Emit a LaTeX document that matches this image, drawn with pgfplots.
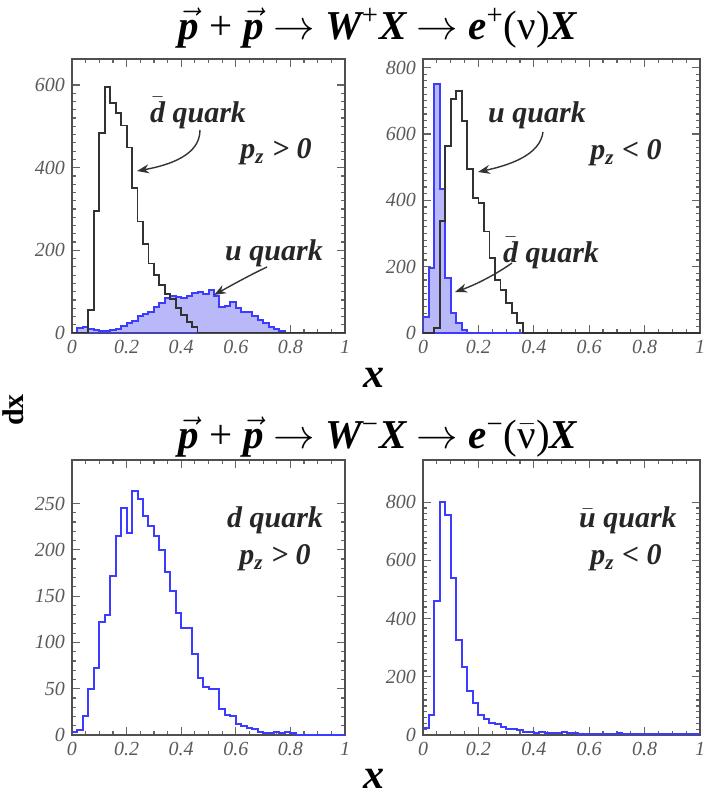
\documentclass[border=0pt]{standalone}
\usepackage{fontspec}
\setmainfont{Liberation Serif}
\usepackage{pgfplots}
\pgfplotsset{compat=1.18}
\usetikzlibrary{arrows.meta}
\definecolor{hblue}{RGB}{60,60,255}
\definecolor{hfill}{RGB}{185,185,250}
\definecolor{hblack}{RGB}{50,50,50}
\definecolor{framec}{RGB}{80,80,80}
\definecolor{tickc}{RGB}{100,100,100}
\definecolor{labc}{RGB}{90,90,90}
\pgfplotsset{
 hist/.style={
   scale only axis, xmin=0, xmax=1, ymin=0,
   axis line style={framec, line width=0.8pt},
   xtick={0,0.2,0.4,0.6,0.8,1}, minor x tick num=3,
   tick align=inside,
   major tick length=4pt, minor tick length=2.2pt,
   tick style={tickc, line width=0.6pt},
   ticklabel style={font=\fontsize{10}{10}\selectfont\itshape, text=labc},
   /pgf/number format/assume math mode=true,
   anchor=north west,
 },
 bluehist/.style={const plot mark left, draw=hblue, line width=1.0pt},
 blackhist/.style={const plot mark left, draw=hblack, line width=0.9pt},
}
\newcommand{\bi}{\bfseries\itshape}
\newcommand{\vp}{\ensuremath{\vec{\mbox{\bi p}}}}
\begin{document}
\begin{tikzpicture}
\useasboundingbox (0,0) rectangle (356pt,-398pt);
% top left
\begin{axis}[hist, at={(36pt,-29.5pt)}, width=136.5pt, height=137pt,
  ymax=663, ytick={0,200,400,600}, minor y tick num=9]
\addplot[bluehist, fill=hfill] coordinates {(0,0) (0.02,12) (0.04,14) (0.06,10) (0.08,8) (0.10,6) (0.12,6) (0.14,8) (0.16,10) (0.18,16) (0.20,24) (0.22,30) (0.24,40) (0.26,45) (0.28,52) (0.30,62) (0.32,72) (0.34,84) (0.36,90) (0.38,86) (0.40,84) (0.42,90) (0.44,96) (0.46,100) (0.48,94) (0.50,104) (0.52,90) (0.54,64) (0.56,66) (0.58,74) (0.60,60) (0.62,52) (0.64,50) (0.66,40) (0.68,32) (0.70,24) (0.72,14) (0.74,10) (0.76,6) (0.78,0) (1,0)} \closedcycle;
\addplot[blackhist] coordinates {(0,0) (0.06,56) (0.08,295) (0.10,483) (0.12,595) (0.14,556) (0.16,532) (0.18,502) (0.20,449) (0.22,351) (0.24,270) (0.26,215) (0.28,168) (0.30,141) (0.32,117) (0.34,95) (0.36,83) (0.38,61) (0.40,44) (0.42,27) (0.44,15) (0.46,0) (1,0)};
\end{axis}
% top right
\begin{axis}[hist, at={(211.5pt,-29.5pt)}, width=138.5pt, height=137pt,
  ymax=826, ytick={0,200,400,600,800}, minor y tick num=9]
\addplot[bluehist, fill=hfill] coordinates {(0,48) (0.02,195) (0.04,750) (0.06,435) (0.08,165) (0.10,60) (0.12,30) (0.14,10) (0.16,0) (1,0)} \closedcycle;
\addplot[blackhist] coordinates {(0,0) (0.04,15) (0.06,337) (0.08,564) (0.10,705) (0.12,730) (0.14,640) (0.16,495) (0.18,407) (0.20,392) (0.22,306) (0.24,226) (0.26,160) (0.28,130) (0.30,90) (0.32,60) (0.34,30) (0.36,0) (1,0)};
\end{axis}
% bottom left
\begin{axis}[hist, at={(36pt,-230pt)}, width=136.5pt, height=137.5pt,
  ymax=297, ytick={0,50,100,150,200,250}, minor y tick num=4]
\addplot[bluehist] coordinates {(0,3) (0.02,5) (0.04,20) (0.06,50) (0.08,72) (0.10,122) (0.12,130) (0.14,172) (0.16,215) (0.18,245) (0.20,218) (0.22,263) (0.24,255) (0.26,237) (0.28,226) (0.30,215) (0.32,200) (0.34,176) (0.36,155) (0.38,132) (0.40,116) (0.42,116) (0.44,87) (0.46,62) (0.48,52) (0.50,50) (0.52,50) (0.54,28) (0.56,22) (0.58,20) (0.60,12) (0.62,10) (0.64,8) (0.66,6) (0.68,3) (0.70,2) (0.72,2) (0.74,3) (0.76,2) (0.78,3) (0.80,2) (0.82,0) (1,0)};
\end{axis}
% bottom right
\begin{axis}[hist, at={(211.5pt,-230pt)}, width=138.5pt, height=137.5pt,
  ymax=945, ytick={0,200,400,600,800}, minor y tick num=9]
\addplot[bluehist] coordinates {(0,25) (0.02,70) (0.04,460) (0.06,800) (0.08,755) (0.10,540) (0.12,325) (0.14,235) (0.16,150) (0.18,110) (0.20,70) (0.22,55) (0.24,40) (0.26,38) (0.28,28) (0.30,20) (0.32,20) (0.34,18) (0.36,10) (0.38,10) (0.40,8) (0.42,10) (0.44,8) (0.46,8) (0.48,6) (0.50,10) (0.52,8) (0.54,6) (0.56,4) (0.58,4) (0.60,4) (0.62,4) (0.64,4) (0.66,4) (0.68,4) (0.70,8) (0.72,3) (0.74,3) (0.76,3) (0.78,3) (0.80,3) (0.82,3) (0.84,3) (0.86,3) (0.88,3) (0.90,3) (0.92,3) (0.94,3) (0.96,3) (0.98,3) (1,3)};
\end{axis}
\begin{scope}[x=0.5pt,y=-0.5pt]
\tikzset{lab/.style={font=\fontsize{15}{15}\selectfont\bi, text=black!85, inner sep=0pt},
         arr/.style={draw=black!80, line width=0.7pt, -{Stealth[length=6pt,width=4.5pt]}}}
% titles
\node[font=\fontsize{20.5}{22}\selectfont, inner sep=0pt] at (378,28) {\vp{} + \vp{} $\rightarrow$ {\bi W}\textsuperscript{+}{\bi X} $\rightarrow$ {\bi e}\textsuperscript{+}(ν){\bi X}};
\node[font=\fontsize{20.5}{22}\selectfont, inner sep=0pt] at (378,437) {\vp{} + \vp{} $\rightarrow$ {\bi W}\textsuperscript{−}{\bi X} $\rightarrow$ {\bi e}\textsuperscript{−}(\ensuremath{\bar{\mbox{ν}}}){\bi X}};
\node[font=\fontsize{21}{22}\selectfont\bi, inner sep=0pt] at (374,378) {x};
\node[font=\fontsize{21}{22}\selectfont\bi, inner sep=0pt] at (374,779) {x};
\node[font=\fontsize{15}{16}\selectfont\bfseries, rotate=90, inner sep=0pt] at (13,410) {dx};
% panel labels
\node[lab] at (198,113) {\ensuremath{\bar{\mbox{d}}} quark};
\node[lab] at (276,152) {p\textsubscript{z} > 0};
\node[lab] at (274,253) {u quark};
\node[lab] at (537,115) {u quark};
\node[lab] at (626,153) {p\textsubscript{z} < 0};
\node[lab] at (551,253) {\ensuremath{\bar{\mbox{d}}} quark};
\node[lab] at (275,520) {d quark};
\node[lab] at (275,558) {p\textsubscript{z} > 0};
\node[lab] at (628,520) {\ensuremath{\bar{\mbox{u}}} quark};
\node[lab] at (626,558) {p\textsubscript{z} < 0};
% arrows
\draw[arr] (200,130) .. controls (200,155) and (170,165) .. (137,171);
\draw[arr] (267,267) .. controls (250,275) and (232,285) .. (214,295);
\draw[arr] (543,132) .. controls (540,155) and (510,165) .. (478,172);
\draw[arr] (512,263) .. controls (495,275) and (475,285) .. (455,292);
\end{scope}
\end{tikzpicture}
\end{document}
